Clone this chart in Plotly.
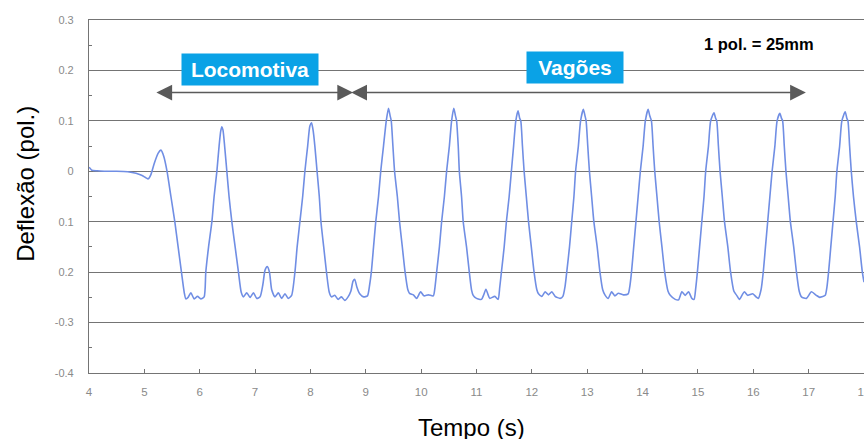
import plotly.graph_objects as go

# ---- data ----
tempo_s = [
    4.00, 4.02, 4.05, 4.15, 4.30, 4.50, 4.70, 4.85, 4.95, 5.03, 5.07, 5.12, 5.18, 5.25, 5.30, 5.35,
    5.41, 5.48, 5.55, 5.61, 5.67, 5.72, 5.75, 5.79, 5.84, 5.90, 5.96, 6.02, 6.08,
    6.11, 6.16, 6.22, 6.26, 6.31, 6.35, 6.38, 6.40, 6.42, 6.45, 6.49, 6.53, 6.58, 6.64, 6.70,
    6.75, 6.79, 6.85, 6.91, 6.97, 7.03, 7.09, 7.14, 7.18, 7.22, 7.26, 7.30, 7.36, 7.42, 7.48,
    7.54, 7.60, 7.66, 7.72, 7.76, 7.81, 7.86, 7.90, 7.95, 7.99, 8.02, 8.05, 8.08, 8.12, 8.16,
    8.19, 8.24, 8.29, 8.34, 8.38, 8.44, 8.50, 8.56, 8.62, 8.68, 8.73, 8.77, 8.80, 8.84, 8.89,
    8.96, 9.03, 9.07, 9.10, 9.14, 9.18, 9.23, 9.27, 9.32, 9.37, 9.41, 9.44, 9.46, 9.49, 9.52,
    9.57, 9.61, 9.66, 9.71, 9.76, 9.79, 9.86, 9.92, 9.99, 10.05, 10.13, 10.22, 10.25, 10.28,
    10.33, 10.37, 10.42, 10.46, 10.51, 10.55, 10.59, 10.62, 10.64, 10.67, 10.69, 10.73, 10.76,
    10.82, 10.87, 10.91, 10.94, 11.00, 11.09, 11.13, 11.17, 11.21, 11.24, 11.33, 11.39, 11.42,
    11.45, 11.50, 11.54, 11.59, 11.63, 11.67, 11.71, 11.75, 11.78, 11.80, 11.83, 11.86, 11.90,
    11.94, 11.99, 12.04, 12.09, 12.12, 12.18, 12.24, 12.30, 12.36, 12.42, 12.51, 12.56, 12.60,
    12.63, 12.68, 12.72, 12.76, 12.79, 12.84, 12.88, 12.93, 12.96, 12.98, 13.01, 13.04, 13.08,
    13.12, 13.18, 13.23, 13.28, 13.32, 13.38, 13.44, 13.50, 13.56, 13.65, 13.74, 13.77, 13.80,
    13.84, 13.88, 13.92, 13.96, 14.01, 14.05, 14.10, 14.13, 14.16, 14.19, 14.22, 14.26, 14.30,
    14.35, 14.40, 14.46, 14.50, 14.59, 14.65, 14.71, 14.77, 14.83, 14.89, 14.93, 14.96, 14.99,
    15.03, 15.07, 15.11, 15.14, 15.19, 15.23, 15.29, 15.32, 15.34, 15.37, 15.40, 15.44, 15.48,
    15.54, 15.59, 15.65, 15.70, 15.75, 15.80, 15.84, 15.90, 15.99, 16.05, 16.09, 16.14, 16.18,
    16.22, 16.26, 16.30, 16.34, 16.39, 16.43, 16.48, 16.51, 16.53, 16.56, 16.59, 16.63, 16.67,
    16.73, 16.78, 16.83, 16.87, 16.96, 17.05, 17.14, 17.20, 17.24, 17.30, 17.33, 17.36, 17.40,
    17.44, 17.48, 17.51, 17.56, 17.60, 17.66, 17.69, 17.71, 17.74, 17.77, 17.81, 17.86, 17.92,
    17.97, 18.00,
]
deflexao_pol = [
    0.008, 0.006, 0.002, 0.001, 0.000, 0.000, -0.001, -0.004, -0.008, -0.013, -0.015, -0.006, 0.016, 0.036, 0.042, 0.030,
    0.000, -0.050, -0.100, -0.150, -0.200, -0.240, -0.253, -0.250, -0.241, -0.253, -0.248, -0.253, -0.249,
    -0.200, -0.150, -0.100, -0.050, 0.000, 0.050, 0.080, 0.088, 0.082, 0.050, 0.000, -0.050, -0.100, -0.150, -0.200,
    -0.240, -0.249, -0.241, -0.250, -0.241, -0.252, -0.249, -0.225, -0.196, -0.189, -0.200, -0.235, -0.249, -0.241, -0.252,
    -0.243, -0.252, -0.246, -0.200, -0.150, -0.100, -0.050, 0.000, 0.050, 0.090, 0.096, 0.080, 0.050, 0.000, -0.050,
    -0.100, -0.150, -0.200, -0.240, -0.249, -0.246, -0.254, -0.249, -0.256, -0.249, -0.238, -0.218, -0.214, -0.230, -0.243,
    -0.249, -0.247, -0.225, -0.200, -0.150, -0.100, -0.050, 0.000, 0.050, 0.100, 0.125, 0.110, 0.100, 0.050, 0.000,
    -0.050, -0.100, -0.150, -0.200, -0.235, -0.242, -0.245, -0.252, -0.239, -0.247, -0.245, -0.247, -0.230, -0.200,
    -0.150, -0.100, -0.050, 0.000, 0.050, 0.100, 0.125, 0.110, 0.100, 0.050, 0.000, -0.050, -0.100,
    -0.150, -0.200, -0.235, -0.246, -0.252, -0.254, -0.245, -0.234, -0.245, -0.252, -0.248, -0.254, -0.230,
    -0.200, -0.150, -0.100, -0.050, 0.000, 0.050, 0.100, 0.120, 0.105, 0.100, 0.050, 0.000, -0.050,
    -0.100, -0.150, -0.200, -0.235, -0.243, -0.248, -0.239, -0.245, -0.239, -0.248, -0.252, -0.248, -0.228,
    -0.200, -0.150, -0.100, -0.050, 0.000, 0.050, 0.100, 0.123, 0.110, 0.100, 0.050, 0.000, -0.050,
    -0.100, -0.150, -0.200, -0.235, -0.245, -0.252, -0.239, -0.247, -0.242, -0.245, -0.243, -0.228, -0.200,
    -0.150, -0.100, -0.050, 0.000, 0.050, 0.100, 0.123, 0.110, 0.100, 0.050, 0.000, -0.050, -0.100,
    -0.150, -0.200, -0.238, -0.246, -0.254, -0.255, -0.239, -0.246, -0.239, -0.252, -0.254, -0.232, -0.200,
    -0.150, -0.100, -0.050, 0.000, 0.050, 0.100, 0.116, 0.105, 0.100, 0.050, 0.000, -0.050, -0.100,
    -0.150, -0.200, -0.238, -0.246, -0.254, -0.245, -0.239, -0.246, -0.243, -0.249, -0.252, -0.235, -0.200,
    -0.150, -0.100, -0.050, 0.000, 0.050, 0.100, 0.115, 0.105, 0.100, 0.050, 0.000, -0.050, -0.100,
    -0.150, -0.200, -0.238, -0.249, -0.252, -0.239, -0.246, -0.250, -0.249, -0.246, -0.230, -0.200, -0.150,
    -0.100, -0.050, 0.000, 0.050, 0.100, 0.118, 0.105, 0.100, 0.050, 0.000, -0.050, -0.100, -0.150,
    -0.200, -0.220,
]

x_ticks = [4, 5, 6, 7, 8, 9, 10, 11, 12, 13, 14, 15, 16, 17, 18]
x_tick_labels = ["4", "5", "6", "7", "8", "9", "10", "11", "12", "13", "14", "15", "16", "17", "18"]
y_ticks = [-0.4, -0.3, -0.2, -0.1, 0.0, 0.1, 0.2, 0.3]
y_tick_labels = ["-0.4", "-0.3", "0.2", "0.1", "0", "0.1", "0.2", "0.3"]

# arrow extents (s) and level (pol.)
loco_span = [5.19, 8.77]
vagoes_span = [8.71, 16.95]
arrow_level = 0.156

GRID = "#747474"
TICKCOL = "#8a8a8a"
BLUE_BOX = "#0aa2e6"
FONT = "Liberation Sans, Arial, sans-serif"

fig = go.Figure()
fig.add_trace(go.Scatter(
    x=tempo_s, y=deflexao_pol, mode="lines",
    line=dict(color="rgb(112,142,228)", width=1.6, shape="spline", smoothing=0.6),
    showlegend=False, hoverinfo="skip",
))

fig.update_layout(
    width=864, height=439,
    margin=dict(l=89, r=0, t=20, b=66, autoexpand=False),
    paper_bgcolor="white", plot_bgcolor="white",
    font=dict(family=FONT),
    xaxis=dict(
        range=[4, 18], tickvals=x_ticks, ticktext=x_tick_labels,
        showgrid=False, zeroline=False, automargin=False,
        showline=True, linecolor=GRID, linewidth=1.2, mirror=True,
        ticks="inside", ticklen=4, tickcolor=GRID,
        tickfont=dict(size=11.5, color=TICKCOL, family=FONT),
        ticklabelstandoff=8, ticklabeloverflow="allow",
    ),
    yaxis=dict(
        range=[-0.4, 0.3], tickvals=y_ticks, ticktext=y_tick_labels,
        showgrid=True, gridcolor=GRID, gridwidth=1.2, zeroline=False, automargin=False,
        showline=True, linecolor=GRID, linewidth=1.2,
        ticks="inside", ticklen=4, tickcolor=GRID,
        minor=dict(dtick=0.05, tick0=0, ticks="inside", ticklen=3, tickcolor=GRID, showgrid=False),
        tickfont=dict(size=11, color=TICKCOL, family=FONT),
        ticklabelstandoff=12,
    ),
)

annotations = [
    # axis titles
    dict(text="Deflexão (pol.)", xref="paper", yref="paper", x=-0.083, y=0.535,
         textangle=-90, showarrow=False, font=dict(size=24, color="black", family=FONT),
         xanchor="center", yanchor="middle"),
    dict(text="Tempo (s)", xref="paper", yref="paper", x=0.493, y=-0.153,
         showarrow=False, font=dict(size=24, color="black", family=FONT),
         xanchor="center", yanchor="middle"),
    # labels
    dict(text="<b>Locomotiva</b>", x=6.91, y=0.2018, xref="x", yref="y", showarrow=False,
         bgcolor=BLUE_BOX, font=dict(size=21, color="white", family=FONT),
         width=130, height=25, borderpad=3),
    dict(text="<b>Vagões</b>", x=12.78, y=0.2058, xref="x", yref="y", showarrow=False,
         bgcolor=BLUE_BOX, font=dict(size=21, color="white", family=FONT),
         width=90, height=25, borderpad=3),
    dict(text="<b>1 pol. = 25mm</b>", x=16.11, y=0.2524, xref="x", yref="y", showarrow=False,
         font=dict(size=16.5, color="black", family=FONT)),
    # arrows
    dict(text="", x=loco_span[1], y=arrow_level, ax=loco_span[0], ay=arrow_level,
         xref="x", yref="y", axref="x", ayref="y", showarrow=True,
         arrowhead=2, startarrowhead=2, arrowside="end+start", arrowsize=2.1, startarrowsize=2.1,
         arrowwidth=1.5, arrowcolor="#5a5a5a", standoff=0, startstandoff=0),
    dict(text="", x=vagoes_span[1], y=arrow_level, ax=vagoes_span[0], ay=arrow_level,
         xref="x", yref="y", axref="x", ayref="y", showarrow=True,
         arrowhead=2, startarrowhead=2, arrowside="end+start", arrowsize=2.1, startarrowsize=2.1,
         arrowwidth=1.5, arrowcolor="#5a5a5a", standoff=0, startstandoff=0),
]
fig.update_layout(annotations=annotations)

fig.write_html("out.html")
